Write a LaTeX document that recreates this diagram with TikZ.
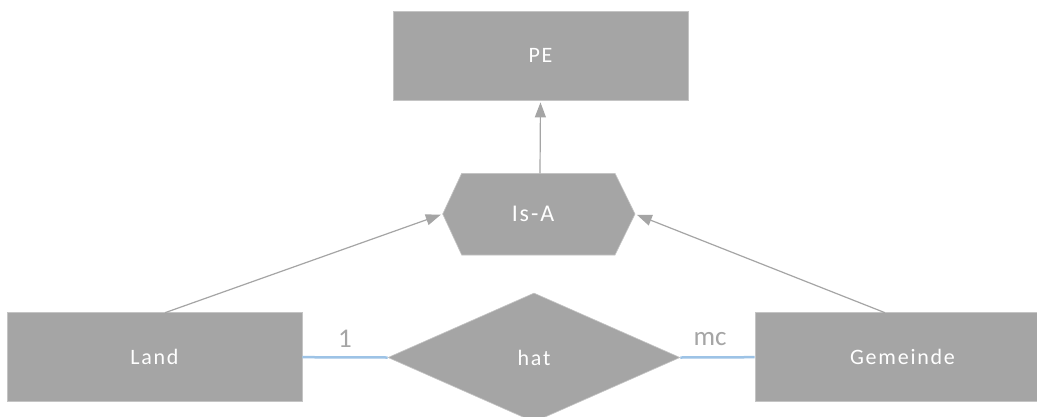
\documentclass[tikz,border=0pt]{standalone}
\usepackage{fontspec}
\setmainfont{Carlito}
\newfontfamily\boxfont[LetterSpace=8]{Carlito}
\usetikzlibrary{shapes.geometric,arrows.meta}
\definecolor{boxgray}{HTML}{A5A5A5}
\definecolor{edgegray}{HTML}{C4C4C4}
\definecolor{linkblue}{HTML}{9DC3E6}
\tikzset{
  entity/.style={rectangle, fill=boxgray, draw=edgegray, line width=0.8pt,
    minimum width=295pt, minimum height=89pt, inner sep=0pt,
    text=white, font=\boxfont\fontsize{22}{26}\selectfont},
  relbox/.style={diamond, fill=boxgray, draw=edgegray, line width=0.6pt,
    minimum width=292pt, minimum height=129pt, inner sep=0pt,
    text=white, font=\boxfont\fontsize{22}{26}\selectfont},
  isalabel/.style={text=white, inner sep=0pt, font=\boxfont\fontsize{24}{28}\selectfont},
  isafill/.style={fill=boxgray, draw=edgegray, line width=0.6pt},
  inherit/.style={draw=boxgray, line width=1.2pt,
    -{Triangle[length=15pt,width=11pt]}, shorten >=2pt},
  link/.style={draw=linkblue, line width=2.5pt},
  card/.style={text=boxgray, inner sep=0pt, font=\fontsize{27}{30}\selectfont}
}
\begin{document}
\begin{tikzpicture}[x=1pt,y=-1pt]
\useasboundingbox (0,0) rectangle (1037,416);
\clip (0,0) rectangle (1037,416);
\fill[white] (0,0) rectangle (1037,416);

% entities
\node[entity] (pe) at (540.5,55.5) {PE};
\node[entity] (land) at (154.5,357.2) {Land};
\node[entity] (gem) at (902.5,357.2) {Gemeinde};

% Is-A hexagon
\coordinate (isaTL) at (461.7,173.3);
\coordinate (isaTR) at (615,173.3);
\coordinate (isaR) at (635,214);
\coordinate (isaBR) at (615,255);
\coordinate (isaBL) at (461.7,255);
\coordinate (isaL) at (442.7,214);
\coordinate (isaT) at (540,173.3);
\path[isafill] (isaTL) -- (isaTR) -- (isaR) -- (isaBR) -- (isaBL) -- (isaL) -- cycle;
\node[isalabel] (isa) at (533,214) {Is-A};

% relationship
\node[relbox] (hat) at (534,357.5) {hat};

% connectors
\coordinate (landTop) at (165,312.7);
\coordinate (gemTop) at (885,312.7);
\draw[inherit] (isaT) -- (pe.south);
\draw[inherit] (landTop) -- (isaL);
\draw[inherit] (gemTop) -- (isaR);

\draw[link] (land.east) -- (hat.west);
\draw[link] (hat.east) -- (gem.west);

\node[card] (one) at (345,339) {1};
\node[card] (mc) at (710,339) {mc};
\end{tikzpicture}
\end{document}
